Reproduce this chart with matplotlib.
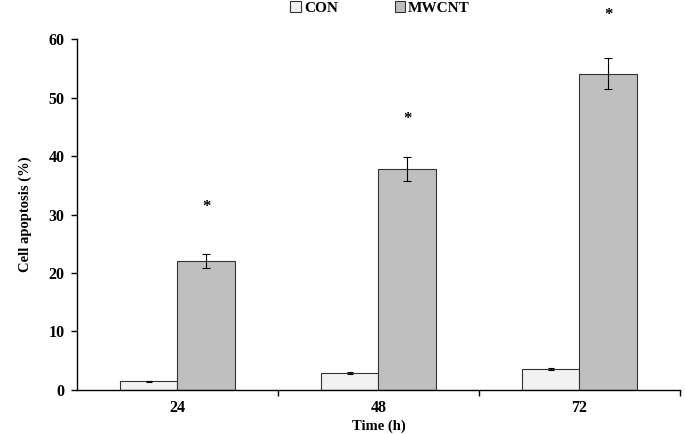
import matplotlib.pyplot as plt
import numpy as np
from matplotlib.patches import Patch

plt.rcParams['font.family'] = ['Liberation Serif', 'DejaVu Serif']
plt.rcParams['font.weight'] = 'bold'
plt.rcParams['axes.labelweight'] = 'bold'

times = ["24", "48", "72"]
con = [1.5, 2.9, 3.6]
con_err = [0.1, 0.15, 0.15]
mwcnt = [22.0, 37.8, 54.1]
mwcnt_err = [1.2, 2.0, 2.6]
star_y = [31.3, 46.3, 64.1]

fig = plt.figure(figsize=(6.85, 4.34), dpi=100)
ax = fig.add_axes([0.1124, 0.1014, 0.8803, 0.8087])

x = np.arange(len(times)) + 0.5
w = 0.284
ax.bar(x - w / 2, con, w, yerr=con_err, color="#f2f2f2", edgecolor="#333333",
       linewidth=0.8, error_kw=dict(ecolor="black", elinewidth=0.8, capsize=2.5, capthick=0.8))
ax.bar(x + w / 2, mwcnt, w, yerr=mwcnt_err, color="#bfbfbf", edgecolor="#333333",
       linewidth=0.8, error_kw=dict(ecolor="black", elinewidth=0.8, capsize=3, capthick=0.8))
for xi, sy in zip(x, star_y):
    ax.text(xi + w / 2, sy, "*", ha="center", va="center", fontsize=12, clip_on=False)

ax.set_xlim(0, 3)
ax.set_ylim(0, 60)
ax.set_yticks(range(0, 61, 10))
ax.set_xticks([1, 2, 3])
ax.set_xticklabels([])
ax.set_xticks(x, minor=True)
ax.set_xticklabels(times, minor=True)
ax.tick_params(axis="x", which="minor", length=0, pad=7, labelsize=11.5)
ax.tick_params(axis="x", which="major", length=4, width=1)
ax.tick_params(axis="y", length=4, width=1, labelsize=11.5, pad=5)
for s in ["top", "right"]:
    ax.spines[s].set_visible(False)
for s in ["left", "bottom"]:
    ax.spines[s].set_linewidth(1.0)

ax.set_ylabel("Cell apoptosis (%)", fontsize=10.5, labelpad=12)
ax.set_xlabel("Time (h)", fontsize=10.5, labelpad=3)

handles = [Patch(facecolor="#f2f2f2", edgecolor="#333333", linewidth=0.8, label="CON"),
           Patch(facecolor="#bfbfbf", edgecolor="#333333", linewidth=0.8, label="MWCNT")]
fig.legend(handles=handles, loc="center", bbox_to_anchor=(0.555, 0.982), ncol=2,
           frameon=False, handlelength=0.7, handleheight=0.7, handletextpad=0.2,
           columnspacing=3.7, fontsize=11, borderpad=0)

fig.savefig("out.png", dpi=100)
